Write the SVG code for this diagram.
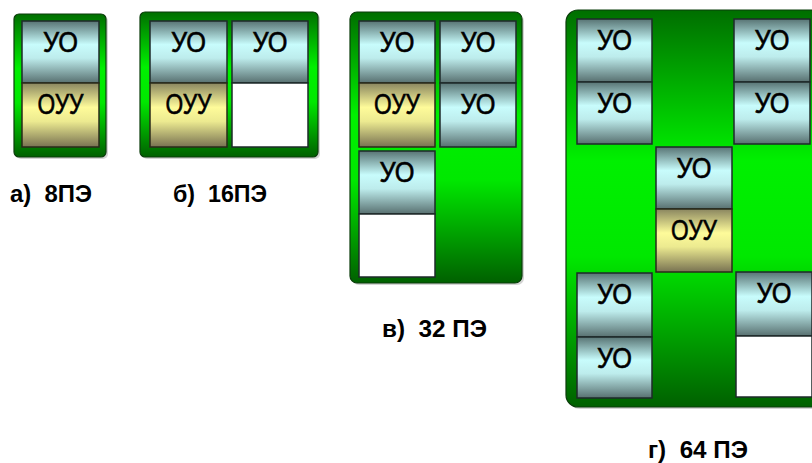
<svg xmlns="http://www.w3.org/2000/svg" width="812" height="463" viewBox="0 0 812 463">
<defs>
<linearGradient id="gGreen" x1="0" y1="0" x2="0" y2="1">
<stop offset="0" stop-color="#006e00"/>
<stop offset="0.38" stop-color="#00f000"/>
<stop offset="0.62" stop-color="#00e800"/>
<stop offset="1" stop-color="#006000"/>
</linearGradient>
<linearGradient id="gUO" x1="0" y1="0" x2="0" y2="1">
<stop offset="0" stop-color="#587474"/>
<stop offset="0.38" stop-color="#c8fcfc"/>
<stop offset="0.6" stop-color="#bdecec"/>
<stop offset="1" stop-color="#587070"/>
</linearGradient>
<linearGradient id="gOUU" x1="0" y1="0" x2="0" y2="1">
<stop offset="0" stop-color="#8a8660"/>
<stop offset="0.38" stop-color="#fefb9a"/>
<stop offset="0.6" stop-color="#ecea90"/>
<stop offset="1" stop-color="#787252"/>
</linearGradient>
</defs>
<style>
.frame{fill:url(#gGreen);stroke:#0b3d0b;stroke-width:1.2}
.shadow{fill:#b8b8b8;opacity:0.6}
.uo{fill:url(#gUO);stroke:#1e2a2a;stroke-width:1.5}
.ouu{fill:url(#gOUU);stroke:#2a2a1a;stroke-width:1.5}
.empty{fill:#ffffff;stroke:#1e2a2a;stroke-width:1.5}
.t{font-family:"Liberation Sans",Arial,sans-serif;font-size:29px;fill:#000;stroke:#000;stroke-width:0.6;text-anchor:middle}
.lbl{font-family:"Liberation Sans",Arial,sans-serif;font-size:24px;font-weight:bold;fill:#000;white-space:pre}
</style>

<g id="panel-a">
<rect class="shadow" x="16" y="16" width="92" height="143" rx="5"/>
<rect class="frame" x="14" y="14" width="92" height="143" rx="5"/>
<g id="a-uo"><rect class="uo" x="22" y="21" width="77" height="62"/><text class="t" x="60.5" y="52" textLength="35" lengthAdjust="spacingAndGlyphs">УО</text></g>
<g id="a-ouu"><rect class="ouu" x="22" y="83" width="77" height="64"/><text class="t" x="60.5" y="114" textLength="46" lengthAdjust="spacingAndGlyphs">ОУУ</text></g>
</g>

<g id="panel-b">
<rect class="shadow" x="142" y="14" width="178" height="145" rx="5"/>
<rect class="frame" x="140" y="12" width="178" height="145" rx="5"/>
<g id="b-uo1"><rect class="uo" x="150" y="21" width="77" height="62"/><text class="t" x="188.5" y="52" textLength="35" lengthAdjust="spacingAndGlyphs">УО</text></g>
<g id="b-ouu"><rect class="ouu" x="150" y="83" width="77" height="64"/><text class="t" x="188.5" y="114" textLength="46" lengthAdjust="spacingAndGlyphs">ОУУ</text></g>
<g id="b-uo2"><rect class="uo" x="232" y="21" width="76" height="62"/><text class="t" x="270" y="52" textLength="35" lengthAdjust="spacingAndGlyphs">УО</text></g>
<g id="b-empty"><rect class="empty" x="232" y="83" width="76" height="64"/></g>
</g>

<g id="panel-c">
<rect class="shadow" x="352" y="14" width="172" height="271" rx="7"/>
<rect class="frame" x="350" y="12" width="172" height="271" rx="7"/>
<g id="c-uo1"><rect class="uo" x="359" y="21" width="76" height="62"/><text class="t" x="397" y="52" textLength="35" lengthAdjust="spacingAndGlyphs">УО</text></g>
<g id="c-ouu"><rect class="ouu" x="359" y="83" width="76" height="64"/><text class="t" x="397" y="114" textLength="46" lengthAdjust="spacingAndGlyphs">ОУУ</text></g>
<g id="c-uo2"><rect class="uo" x="440" y="21" width="76" height="62"/><text class="t" x="478" y="52" textLength="35" lengthAdjust="spacingAndGlyphs">УО</text></g>
<g id="c-uo3"><rect class="uo" x="440" y="83" width="76" height="64"/><text class="t" x="478" y="114" textLength="35" lengthAdjust="spacingAndGlyphs">УО</text></g>
<g id="c-uo4"><rect class="uo" x="359" y="151" width="76" height="63"/><text class="t" x="397" y="182" textLength="35" lengthAdjust="spacingAndGlyphs">УО</text></g>
<g id="c-empty"><rect class="empty" x="359" y="214" width="76" height="63"/></g>
</g>

<g id="panel-d">
<rect class="shadow" x="568" y="12" width="264" height="397" rx="12"/>
<rect class="frame" x="566" y="10" width="264" height="397" rx="12"/>
<g id="d-uo1"><rect class="uo" x="577" y="19" width="75" height="63"/><text class="t" x="614.5" y="50" textLength="35" lengthAdjust="spacingAndGlyphs">УО</text></g>
<g id="d-uo2"><rect class="uo" x="577" y="82" width="75" height="62"/><text class="t" x="614.5" y="113" textLength="35" lengthAdjust="spacingAndGlyphs">УО</text></g>
<g id="d-uo3"><rect class="uo" x="734" y="19" width="76" height="63"/><text class="t" x="772" y="50" textLength="35" lengthAdjust="spacingAndGlyphs">УО</text></g>
<g id="d-uo4"><rect class="uo" x="734" y="82" width="76" height="62"/><text class="t" x="772" y="113" textLength="35" lengthAdjust="spacingAndGlyphs">УО</text></g>
<g id="d-uo5"><rect class="uo" x="656" y="147" width="76" height="62"/><text class="t" x="694" y="178" textLength="35" lengthAdjust="spacingAndGlyphs">УО</text></g>
<g id="d-ouu"><rect class="ouu" x="656" y="209" width="76" height="63"/><text class="t" x="694" y="240" textLength="46" lengthAdjust="spacingAndGlyphs">ОУУ</text></g>
<g id="d-uo6"><rect class="uo" x="577" y="273" width="75" height="64"/><text class="t" x="614.5" y="304" textLength="35" lengthAdjust="spacingAndGlyphs">УО</text></g>
<g id="d-uo7"><rect class="uo" x="577" y="337" width="75" height="61"/><text class="t" x="614.5" y="368" textLength="35" lengthAdjust="spacingAndGlyphs">УО</text></g>
<g id="d-uo8"><rect class="uo" x="736" y="272" width="76" height="64"/><text class="t" x="774" y="303" textLength="35" lengthAdjust="spacingAndGlyphs">УО</text></g>
<g id="d-empty"><rect class="empty" x="736" y="336" width="76" height="61"/></g>
</g>

<g id="connectors"/>

<g id="labels">
<text class="lbl" x="10" y="202" textLength="82" lengthAdjust="spacingAndGlyphs">а)  8ПЭ</text>
<text class="lbl" x="173" y="202" textLength="94" lengthAdjust="spacingAndGlyphs">б)  16ПЭ</text>
<text class="lbl" x="382" y="337" textLength="105" lengthAdjust="spacingAndGlyphs">в)  32 ПЭ</text>
<text class="lbl" x="648" y="458" textLength="100" lengthAdjust="spacingAndGlyphs">г)  64 ПЭ</text>
</g>
</svg>
